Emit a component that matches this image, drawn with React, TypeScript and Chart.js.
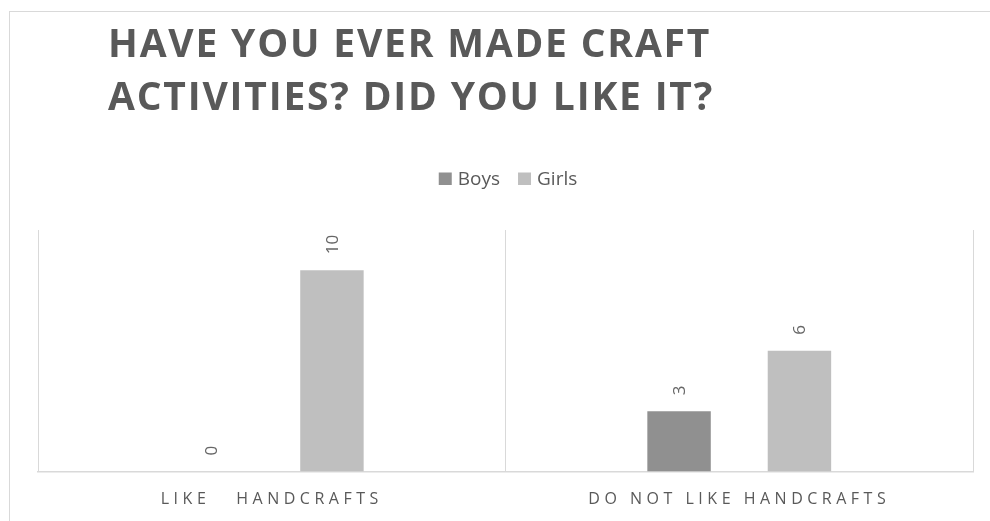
import React, { useEffect, useRef } from "react";
import { Chart, registerables } from "chart.js";

Chart.register(...registerables);

const categories = ["LIKE   HANDCRAFTS", "DO NOT LIKE HANDCRAFTS"];
const seriesNames = ["Boys", "Girls"];
const boysValues = [0, 3];
const girlsValues = [10, 6];
const titleLines = ["HAVE YOU EVER MADE CRAFT", "ACTIVITIES? DID YOU LIKE IT?"];
const seriesColors = ["#909090", "#bfbfbf"];

const TEXT = "#595959";
const GRID = "#d9d9d9";
const FONT = "'Open Sans', sans-serif";

const decorPlugin = {
  id: "decor",
  beforeDraw(chart: any) {
    (chart.ctx as any).letterSpacing = "4.5px";
  },
  beforeDatasetsDraw(chart: any) {
    (chart.ctx as any).letterSpacing = "0px";
  },
  afterDatasetsDraw(chart: any) {
    const ctx = chart.ctx;
    ctx.save();
    (ctx as any).letterSpacing = "0px";
    ctx.fillStyle = "#666666";
    ctx.font = `17px ${FONT}`;
    ctx.textAlign = "left";
    ctx.textBaseline = "middle";
    chart.data.datasets.forEach((ds: any, i: number) => {
      const meta = chart.getDatasetMeta(i);
      meta.data.forEach((el: any, j: number) => {
        const v = ds.data[j];
        ctx.save();
        ctx.translate(el.x + 1, el.y - 16);
        ctx.rotate(-Math.PI / 2);
        ctx.fillText(String(v), 0, 0);
        ctx.restore();
      });
    });
    ctx.restore();
  },
  afterDraw(chart: any) {
    const ctx = chart.ctx;
    ctx.save();
    // title
    ctx.fillStyle = TEXT;
    ctx.font = `bold 39px ${FONT}`;
    (ctx as any).letterSpacing = "1.8px";
    ctx.textAlign = "left";
    ctx.textBaseline = "alphabetic";
    titleLines.forEach((line, i) => {
      ctx.fillText(line, 98, 45 + i * 52.5);
    });
    // legend
    (ctx as any).letterSpacing = "0px";
    ctx.font = `19px ${FONT}`;
    const box = 13;
    const gapBoxText = 6;
    const gapItems = 18;
    const items = chart.data.datasets.map((ds: any) => ({
      label: ds.label,
      color: ds.backgroundColor,
      w: ctx.measureText(ds.label).width,
    }));
    let total = 0;
    items.forEach((it: any, i: number) => {
      total += box + gapBoxText + it.w + (i < items.length - 1 ? gapItems : 0);
    });
    let x = 498 - total / 2;
    const baseY = 173;
    items.forEach((it: any) => {
      ctx.fillStyle = it.color;
      ctx.fillRect(x, baseY - 12.5, box, box - 0.5);
      ctx.fillStyle = TEXT;
      ctx.fillText(it.label, x + box + gapBoxText, baseY);
      x += box + gapBoxText + it.w + gapItems;
    });
    ctx.restore();
  },
};

export default function App() {
  const ref = useRef<HTMLCanvasElement | null>(null);

  useEffect(() => {
    document.body.style.overflow = "hidden";
    if (!ref.current) return;
    const chart = new Chart(ref.current, {
      type: "bar",
      data: {
        labels: categories,
        datasets: [
          {
            label: seriesNames[0],
            data: boysValues,
            backgroundColor: seriesColors[0],
            categoryPercentage: 0.515,
            barPercentage: 0.527,
          },
          {
            label: seriesNames[1],
            data: girlsValues,
            backgroundColor: seriesColors[1],
            categoryPercentage: 0.515,
            barPercentage: 0.527,
          },
        ],
      },
      options: {
        animation: false,
        responsive: false,
        maintainAspectRatio: false,
        events: [],
        layout: { padding: { top: 218, left: 28, right: 17, bottom: 0 } },
        plugins: {
          legend: { display: false },
          title: { display: false },
          tooltip: { enabled: false },
        },
        scales: {
          x: {
            offset: true,
            grid: {
              display: true,
              offset: true,
              color: GRID,
              lineWidth: 1,
              drawTicks: false,
            },
            border: { display: true, color: GRID, width: 1.5 },
            ticks: {
              color: TEXT,
              font: { family: FONT, size: 16 },
              padding: 18,
              maxRotation: 0,
              autoSkip: false,
            },
            afterFit: (scale: any) => {
              scale.height = 49.5;
            },
          },
          y: {
            display: false,
            min: 0,
            max: 12,
          },
        },
      },
      plugins: [decorPlugin],
    });
    return () => chart.destroy();
  }, []);

  return (
    <div
      style={{
        position: "fixed",
        left: 9,
        top: 11,
        width: 1100,
        height: 600,
        border: "1px solid #d9d9d9",
        background: "#ffffff",
      }}
    >
      <canvas
        ref={ref}
        width={980}
        height={509}
        style={{ position: "absolute", left: 0, top: 0, width: 980, height: 509 }}
      />
    </div>
  );
}
